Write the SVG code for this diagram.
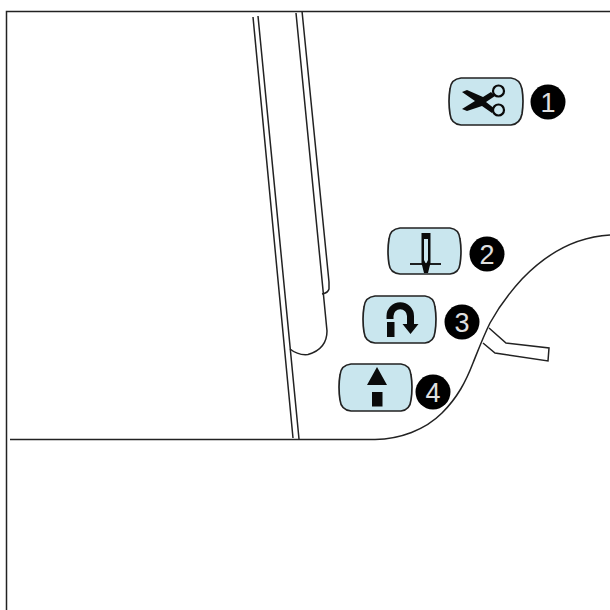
<svg xmlns="http://www.w3.org/2000/svg" width="610" height="610" viewBox="0 0 610 610">
<style>
.l{fill:none;stroke:#222;stroke-width:1.5}
.b{fill:#c9e6ee;stroke:#222;stroke-width:1.7}
.i{fill:#0a0a0a}
.c{fill:#000}
.n{fill:#e0e0e0;font-family:"Liberation Sans",Arial,sans-serif;font-size:27px;text-anchor:middle}
</style>
<rect width="610" height="610" fill="#fff"/>
<g id="machine" class="l">
<path d="M6.500 610V11.500H610"/>
<path d="M10 439.500H375C400 439 425 430 442 413C458 397 466 381 473 363C479 348 484 335 490 323C500 305 510 292 522 279C545 255 575 237 610 235"/>
<path d="M253 17L293 438M258 16L299 439"/>
<path d="M296 13L327 331Q327 349 308 354.500Q298 355.500 290 349"/>
<path d="M302 11L329 282V289Q328 293 322 294"/>
<path d="M489 328L506 343L549 348L548 361L495 353L483 343"/>
</g>
<g id="btn-1">
<path class="b" d="M461 78H511Q520 79 522 89Q524 101 522 114Q520 124 511 125H461Q451 124 450 114Q448 101 450 89Q451 79 461 78Z"/>
<path class="i" d="M462 92L467 90L483 97L491 92L495 96L486 102L495 109L492 113L482 106L467 111L462 109L475 101Z"/>
<circle cx="498.500" cy="91" r="5.500" fill="#c9e6ee" stroke="#0a0a0a" stroke-width="2.200"/>
<circle cx="498.500" cy="110" r="5.500" fill="#c9e6ee" stroke="#0a0a0a" stroke-width="2.200"/>
<circle class="c" cx="548" cy="102" r="17.500"/>
<text class="n" x="548" y="111.500">1</text>
</g>
<g id="btn-2">
<path class="b" d="M400 228H450Q459 229 460 239Q462 251 460 264Q459 273 450 274H400Q390 273 389 264Q387 251 389 239Q390 229 400 228Z"/>
<path class="i" d="M421.500 233H430.500V263L428 273H424L421.500 263ZM424 239V260L426 264L428 260V239Z" fill-rule="evenodd"/>
<path d="M410 264H441" stroke="#0a0a0a" stroke-width="1.800"/>
<circle class="c" cx="487" cy="254" r="17.500"/>
<text class="n" x="487" y="263.500">2</text>
</g>
<g id="btn-3">
<path class="b" d="M375 296H425Q434 297 435 307Q437 319 435 332Q434 342 425 343H375Q365 342 364 332Q362 319 364 307Q365 297 375 296Z"/>
<path d="M390 319V316A10.200 10.200 0 0 1 410.500 316V325" fill="none" stroke="#0a0a0a" stroke-width="7"/>
<path class="i" d="M387 322H394.500V337H387ZM402.500 324H418.500L410.500 334Z"/>
<circle class="c" cx="462" cy="322" r="17.500"/>
<text class="n" x="462" y="331.500">3</text>
</g>
<g id="btn-4">
<path class="b" d="M351 364H401Q410 365 411 375Q413 387 411 400Q410 410 401 411H351Q341 410 340 400Q338 387 340 375Q341 365 351 364Z"/>
<path class="i" d="M377 367L387 385H367ZM372 392H382.500V406.500H372Z"/>
<circle class="c" cx="433" cy="392" r="17.500"/>
<text class="n" x="433" y="401.500">4</text>
</g>
</svg>
